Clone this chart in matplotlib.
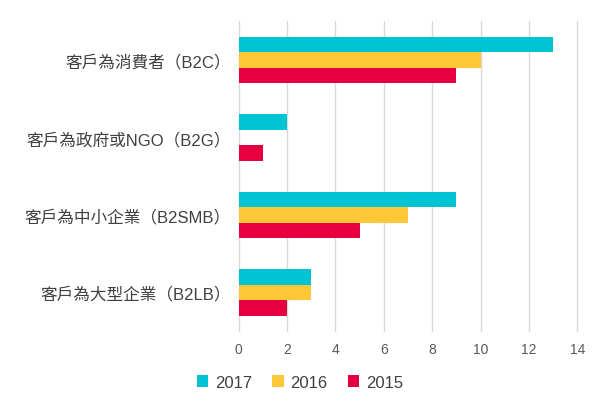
import numpy as np
import matplotlib.pyplot as plt

plt.rcParams['font.family'] = ['Liberation Sans', 'Noto Sans CJK TC']

categories = ['客戶為消費者（B2C）', '客戶為政府或NGO（B2G）', '客戶為中小企業（B2SMB）', '客戶為大型企業（B2LB）']
v2017 = [13, 2, 9, 3]
v2016 = [10, 0, 7, 3]
v2015 = [9, 1, 5, 2]
ticks = [0, 2, 4, 6, 8, 10, 12, 14]

fig = plt.figure(figsize=(6, 4.06), dpi=100)
ax = fig.add_axes([0.398, 0.182, 0.564, 0.763])

y = np.arange(len(categories))[::-1].astype(float)
h = 0.2
ax.barh(y + h, v2017, height=h, color='#00C4D4', label='2017')
ax.barh(y, v2016, height=h, color='#FFC738', label='2016')
ax.barh(y - h, v2015, height=h, color='#E6003F', label='2015')

ax.set_xlim(0, 14)
ax.set_ylim(-0.5, 3.5)
ax.set_xticks(ticks)
ax.set_yticks(y)
ax.set_yticklabels(categories, fontsize=12, color='#404040')
ax.tick_params(axis='x', labelsize=10, colors='#595959', length=0, pad=8)
ax.tick_params(axis='y', length=0, pad=6)
ax.grid(axis='x', color='#D9D9D9', linewidth=1, clip_on=False)
ax.set_axisbelow(True)
for s in ax.spines.values():
    s.set_visible(False)

fig.legend(loc='lower center', bbox_to_anchor=(0.5, 0.0), ncol=3, frameon=False,
           fontsize=12, handlelength=0.7, handleheight=0.7, columnspacing=1.2,
           handletextpad=0.4, labelcolor='#404040')

fig.savefig('out.png')
